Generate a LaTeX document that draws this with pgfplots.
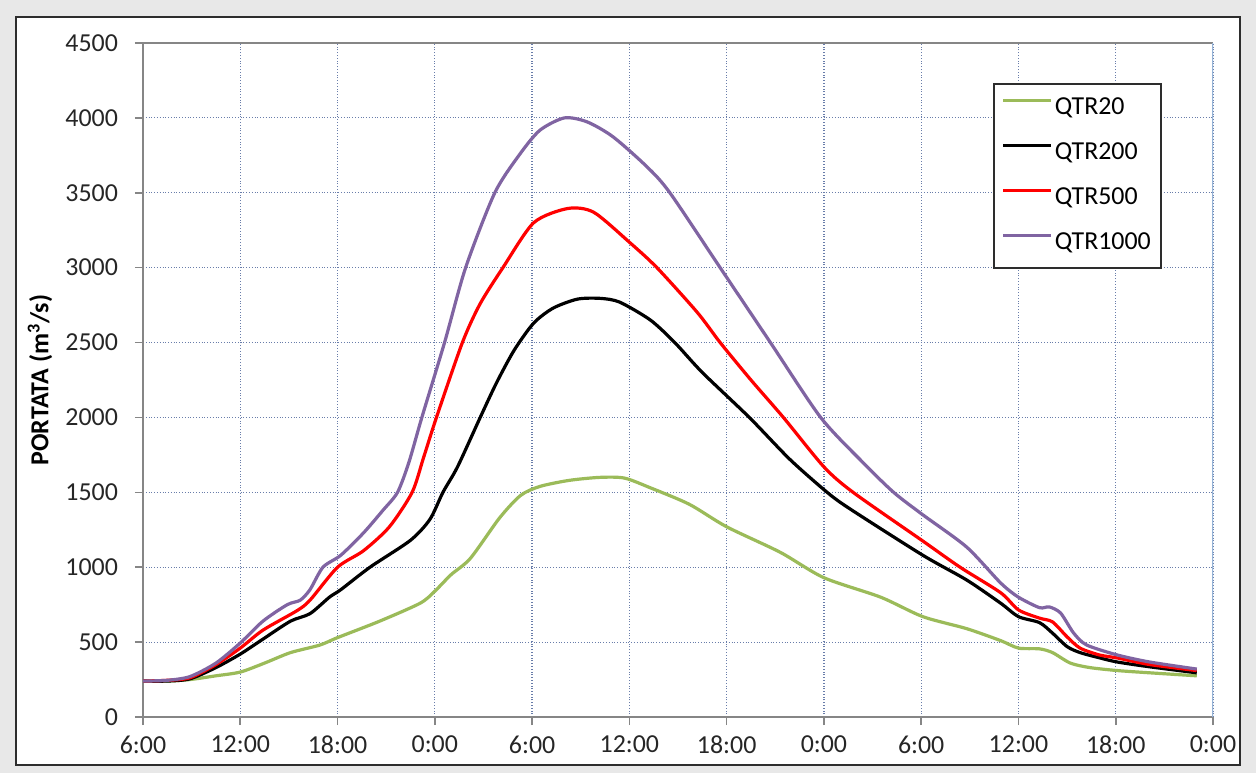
\documentclass[border=0pt]{standalone}
\usepackage{pgfplots}
\pgfplotsset{compat=1.18}
\usepackage{fontspec}
\setmainfont{Carlito}

\definecolor{qgreen}{RGB}{155,187,89}
\definecolor{qpurple}{RGB}{128,100,162}
\definecolor{qred}{RGB}{255,0,0}
\definecolor{gridc}{RGB}{105,125,170}
\definecolor{axisc}{RGB}{134,134,134}
\definecolor{rightc}{RGB}{150,180,215}
\definecolor{bgc}{RGB}{232,232,232}
\definecolor{framec}{RGB}{45,45,45}

\begin{document}
\begin{tikzpicture}
\path[use as bounding box, fill=bgc] (0bp,0bp) rectangle (628bp,386.5bp);
\filldraw[fill=white, draw=framec, line width=1bp] (8bp,4bp) rectangle (620bp,378bp);
\begin{axis}[
    at={(71.5bp,28bp)}, anchor=south west,
    scale only axis, width=535bp, height=337bp,
    xmin=0, xmax=66, ymin=0, ymax=4500,
    xtick={0,6,...,66},
    xticklabels={6:00,12:00,18:00,0:00,6:00,12:00,18:00,0:00,6:00,12:00,18:00,0:00},
    ytick={0,500,...,4500},
    grid=major,
    major grid style={gridc, densely dotted, line width=0.6bp},
    axis x line*=bottom, axis y line*=left,
    axis line style={axisc, line width=0.8bp, -},
    tick align=outside, major tick length=4bp,
    tick style={axisc, line width=0.8bp},
    ticklabel style={font=\fontsize{13}{15}\selectfont, text=black!85},
    yticklabel style={xshift=-5bp},
    xticklabel style={yshift=-2bp},
    /pgf/number format/assume math mode=true,
    /pgf/number format/1000 sep={},
    ylabel={\bfseries PORTATA (m\textsuperscript{3}/s)},
    ylabel style={at={(axis description cs:-0.0963,0.5)}, anchor=center,
        font=\fontsize{13}{15}\selectfont},
    legend style={at={(0.794,0.9407)}, anchor=north west, draw=framec,
        line width=1bp, fill=white, font=\fontsize{13}{15}\selectfont,
        row sep=11bp, inner xsep=4bp, inner ysep=6.5bp,
        nodes={text height=9bp, text depth=2.5bp, inner ysep=0bp, inner xsep=1bp}},
    legend cell align=left,
    legend image code/.code={\draw[#1, line width=1.6bp] (0bp,4bp) -- (24bp,4bp);},
    every axis plot/.append style={line width=1.6bp, smooth, tension=0.45},
]
\addplot[qgreen] coordinates {
(0,240) (1.5,240) (2.9,250) (4.5,275) (6.0,300) (7.5,360) (9.1,430) (10.9,480)
(12.0,530) (14.6,640) (17.1,760) (18.0,840) (19.0,950) (20.2,1060) (22.0,1330)
(23.3,1480) (24.5,1540) (26.3,1580) (28.2,1600) (29.7,1595) (31.3,1530) (33.7,1420)
(36.0,1270) (39.3,1100) (42.0,930) (45.5,800) (48.1,670) (50.8,590) (52.9,510)
(54.0,460) (55.3,455) (56.1,430) (57.2,360) (58.4,330) (60.1,310) (62.1,295) (65.0,275)
};
\addlegendentry{QTR20}
\addplot[black] coordinates {
(0,240) (1.5,240) (2.9,255) (4.5,330) (6.0,420) (7.4,520) (9.1,640) (10.3,690)
(11.5,800) (12.2,850) (14.0,1000) (16.5,1180) (17.7,1320) (18.5,1500) (19.4,1670)
(20.8,2000) (21.8,2230) (22.9,2450) (24.1,2630) (25.3,2730) (26.8,2790) (28.2,2795)
(29.4,2770) (31.3,2650) (32.8,2500) (34.5,2300) (37.4,2000) (39.9,1720) (42.2,1500)
(43.6,1390) (48.1,1080) (50.8,915) (52.9,760) (54.0,670) (55.3,630) (56.1,560)
(57.0,470) (57.8,430) (59.0,395) (60.1,367) (62.1,335) (65.0,295)
};
\addlegendentry{QTR200}
\addplot[qred] coordinates {
(0,240) (1.5,245) (2.9,262) (4.5,350) (6.0,460) (7.4,580) (9.5,710) (10.3,780)
(12.0,1000) (13.6,1110) (15.2,1270) (16.6,1500) (17.3,1730) (18.1,2000) (19.7,2500)
(20.8,2760) (22.2,3000) (24.1,3300) (26.2,3395) (27.8,3370) (30.0,3170) (31.7,3000)
(34.2,2700) (35.6,2500) (37.5,2250) (39.5,2000) (42.0,1670) (43.8,1500) (48.1,1175)
(50.4,1000) (52.9,830) (54.0,715) (55.3,660) (56.1,635) (57.0,535) (57.8,460)
(59.0,414) (60.1,394) (62.1,350) (65.0,310)
};
\addlegendentry{QTR500}
\addplot[qpurple] coordinates {
(0,240) (1.5,245) (2.9,270) (4.5,360) (6.0,494) (7.4,640) (8.9,750) (9.7,780)
(10.3,850) (11.1,1000) (12.2,1080) (13.6,1229) (14.8,1380) (15.7,1500) (16.4,1700)
(17.2,2000) (18.6,2500) (19.9,3000) (21.7,3500) (23.3,3766) (24.5,3919) (26.0,4000)
(27.4,3973) (29.0,3873) (31.1,3672) (32.5,3500) (35.6,3000) (38.7,2500) (41.8,2000)
(44.4,1700) (46.3,1500) (48.1,1350) (50.8,1135) (52.9,895) (54.0,800) (55.3,730)
(55.9,735) (56.6,694) (57.4,561) (58.2,481) (60.1,414) (62.1,367) (65.0,320)
};
\addlegendentry{QTR1000}
\draw[axisc, line width=0.8bp] (rel axis cs:0,1) -- (rel axis cs:1,1);
\draw[rightc, line width=0.8bp] (rel axis cs:1,0) -- (rel axis cs:1,1);
\end{axis}
\end{tikzpicture}
\end{document}
